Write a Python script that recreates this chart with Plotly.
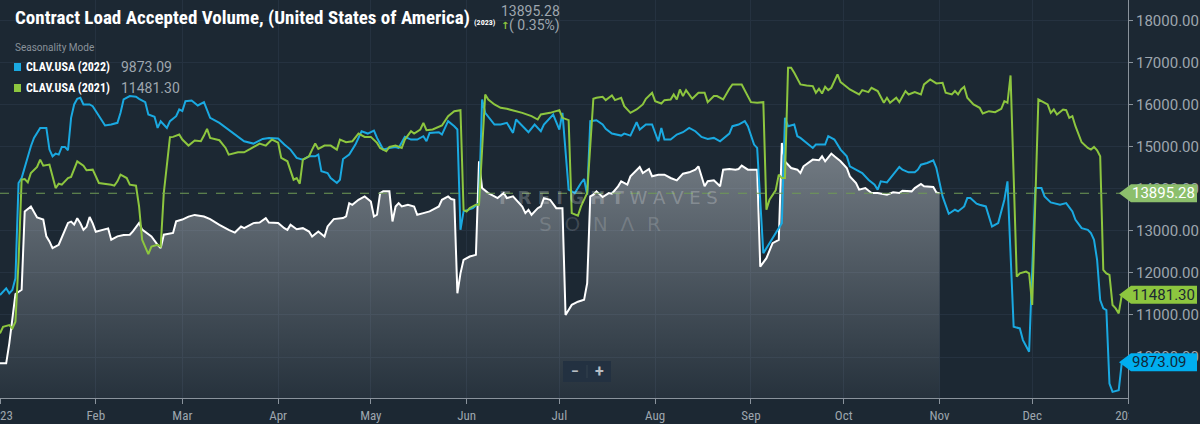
import pandas as pd
import plotly.graph_objects as go

# values, (day of 2023, volume) pairs
START = pd.Timestamp("2023-01-01")

clav_2023 = [(0, 9850), (2, 9850), (3, 10320), (5, 11500), (7, 11600), (8, 13460), (10, 13580), (12, 13320),
             (14, 13270), (15, 12870), (16, 12750), (17, 12590), (19, 12670), (20, 12830), (22, 13190), (23, 13220),
             (24, 13150), (25, 13300), (26, 13180), (27, 13025), (28, 13100), (29, 13330), (30, 13180), (31, 12980),
             (33, 13020), (35, 13060), (36, 12790), (38, 12870), (40, 12900), (42, 12910), (43, 12990), (45, 13190),
             (46, 13030), (48, 12910), (49, 12870), (51, 12670), (52, 12590), (53, 12910), (56, 12950), (57, 13230),
             (59, 13270), (61, 13340), (63, 13380), (66, 13340), (68, 13280), (71, 13145), (72, 13100), (74, 13025),
             (76, 12960), (78, 13105), (79, 13065), (82, 13185), (84, 13200), (86, 13305), (87, 13200), (90, 13190),
             (92, 13065), (93, 13025), (94, 13145), (96, 13040), (98, 13065), (100, 12985), (101, 12866), (103, 12986),
             (105, 12866), (106, 13105), (108, 13280), (111, 13305), (112, 13345), (113, 13660), (114, 13620),
             (116, 13740), (118, 13820), (120, 13700), (121, 13345), (122, 13385), (123, 13900), (124, 13940),
             (126, 13940), (127, 13225), (128, 13580), (129, 13660), (130, 13580), (132, 13620), (134, 13580),
             (135, 13383), (137, 13423), (139, 13463), (141, 13540), (142, 13580), (143, 13740), (145, 13820),
             (146, 13757), (147, 13740), (148, 11515), (149, 11990), (150, 12310), (152, 12390), (154, 12430),
             (155, 14655), (156, 14020), (158, 13900), (160, 13820), (161, 13780), (163, 13900), (164, 13780),
             (166, 13820), (167, 13740), (169, 13580), (170, 13423), (171, 13502), (172, 13383), (174, 13540),
             (175, 13580), (176, 13780), (178, 13740), (180, 13540), (182, 13540), (183, 11000), (185, 11240),
             (187, 11316), (189, 11360), (190, 11755), (191, 13820), (192, 13860), (193, 13940), (195, 13805),
             (197, 13900), (198, 13885), (200, 14060), (201, 14180), (203, 14100), (204, 14300), (207, 14520),
             (208, 14377), (210, 14472), (211, 14300), (213, 14337), (215, 14337), (217, 14258), (219, 14202),
             (221, 14361), (223, 14393), (225, 14456), (226, 14536), (228, 14060), (229, 14180), (231, 14202),
             (233, 14060), (234, 14456), (236, 14472), (238, 14456), (239, 14472), (240, 14552), (242, 14456),
             (245, 14456), (246, 12150), (248, 12350), (250, 12708), (252, 12787), (253, 15090), (254, 14655),
             (256, 14496), (258, 14456), (259, 14377), (260, 14536), (263, 14695), (265, 14679), (266, 14774),
             (267, 14655), (269, 14838), (270, 14774), (272, 14655), (274, 14496), (275, 14297), (277, 14138),
             (278, 13980), (280, 14019), (282, 13900), (284, 13900), (287, 13860), (289, 13916), (291, 13900),
             (292, 13956), (295, 13940), (296, 14019), (298, 14115), (299, 14059), (302, 14043), (303, 13916),
             (304, 13895.28)]

clav_2022 = [(0, 11475), (1, 11555), (2, 11634), (3, 11515), (4, 11595), (5, 11873), (6, 14140), (7, 14258),
             (9, 14775), (10, 15013), (11, 15212), (13, 15450), (15, 15450), (16, 14934), (17, 14775), (18, 14838),
             (19, 14814), (20, 14997), (21, 14997), (22, 14918), (23, 15689), (24, 16007), (25, 16142), (26, 16166),
             (27, 16007), (29, 16007), (30, 15967), (32, 15729), (34, 15506), (36, 15530), (38, 15570), (39, 15808),
             (40, 16126), (42, 16206), (44, 16190), (45, 16142), (47, 16062), (48, 15768), (50, 15713), (51, 15450),
             (52, 15609), (54, 15450), (55, 15609), (57, 15729), (58, 15888), (59, 15848), (60, 16086), (62, 16102),
             (64, 15983), (66, 16062), (68, 15689), (71, 15570), (74, 15411), (77, 15252), (79, 15132), (82, 15077),
             (85, 15188), (87, 15212), (90, 15196), (92, 15053), (94, 14934), (96, 14735), (98, 14695), (100, 14775),
             (102, 14775), (103, 14814), (104, 14417), (106, 14377), (107, 14258), (109, 14139), (110, 14218),
             (111, 14711), (113, 14814), (115, 15053), (117, 15370), (119, 15315), (121, 15387), (122, 15212),
             (124, 14934), (126, 14973), (128, 14997), (129, 14973), (131, 15236), (133, 15172), (135, 15172),
             (137, 15252), (138, 15132), (139, 15331), (142, 15347), (143, 15291), (145, 15609), (147, 15490),
             (148, 15411), (149, 13025), (150, 13463), (153, 13542), (155, 13662), (156, 16126), (157, 15808),
             (160, 15530), (162, 15530), (164, 15570), (166, 15331), (167, 15649), (169, 15490), (171, 15347),
             (173, 15530), (175, 15371), (176, 15530), (179, 15768), (181, 15411), (182, 15808), (184, 13980),
             (186, 13900), (188, 14139), (189, 14234), (190, 13860), (191, 15609), (193, 15633), (195, 15530),
             (196, 15426), (198, 15315), (201, 15267), (202, 15315), (204, 15267), (205, 15450), (206, 15585),
             (207, 15411), (209, 15530), (211, 15530), (213, 15132), (214, 15450), (215, 15172), (217, 15172),
             (219, 15291), (221, 15347), (223, 15450), (225, 15371), (227, 15236), (229, 15188), (231, 15212),
             (233, 15132), (235, 15252), (236, 15315), (237, 15490), (239, 15530), (241, 15609), (242, 15490),
             (244, 15053), (245, 14973), (247, 12470), (249, 12708), (251, 12946), (253, 13185), (254, 15689),
             (255, 15490), (257, 15530), (258, 15252), (259, 15212), (261, 15093), (263, 14973), (264, 15053),
             (267, 15053), (268, 15252), (270, 15172), (272, 14934), (274, 14775), (275, 14536), (277, 14456),
             (279, 14377), (281, 14218), (283, 14099), (284, 13980), (285, 14178), (287, 14154), (289, 14337),
             (291, 14520), (292, 14456), (294, 14393), (296, 14393), (297, 14456), (298, 14575), (300, 14615),
             (302, 14679), (303, 14496), (305, 13820), (307, 13407), (309, 13502), (310, 13463), (312, 13582),
             (313, 13781), (314, 13781), (316, 13646), (317, 13622), (319, 13582), (321, 13105), (323, 13185),
             (325, 13741), (326, 14178), (328, 10720), (330, 10680), (331, 10402), (332, 10243), (333, 10124),
             (335, 14019), (337, 14019), (338, 13820), (340, 13677), (343, 13622), (345, 13662), (347, 13463),
             (348, 13264), (350, 13065), (352, 13025), (353, 12946), (354, 12787), (355, 12310), (356, 11356),
             (357, 11157), (358, 11117), (359, 9369), (360, 9170), (362, 9210), (363, 9873.09)]

clav_2021 = [(0, 10561), (1, 10720), (3, 10760), (4, 10680), (5, 10840), (6, 12270), (7, 14218), (8, 14234),
             (9, 14154), (10, 14377), (12, 14520), (13, 14695), (14, 14552), (16, 14576), (17, 14297), (18, 14019),
             (19, 14123), (20, 14099), (22, 14258), (23, 14282), (25, 14655), (27, 14552), (28, 14441), (30, 14456),
             (32, 14139), (34, 14123), (36, 14099), (37, 14075), (38, 14178), (39, 14337), (41, 14258), (42, 14099),
             (44, 14075), (45, 13582), (46, 12787), (48, 12445), (49, 12628), (51, 12668), (52, 12628), (53, 13900),
             (55, 15228), (56, 15236), (58, 15291), (59, 15172), (61, 15029), (63, 15148), (65, 15132), (66, 15267),
             (67, 15426), (68, 15212), (71, 15156), (73, 14973), (74, 14814), (77, 14870), (79, 14870), (81, 14950),
             (84, 15077), (86, 15029), (88, 15172), (90, 15100), (91, 14735), (93, 14655), (95, 14218), (96, 14258),
             (97, 14123), (98, 14695), (100, 14775), (101, 14934), (102, 15077), (103, 14950), (105, 15029),
             (107, 15029), (109, 14934), (110, 15172), (112, 15108), (114, 15132), (116, 15315), (118, 15236),
             (120, 15236), (122, 15093), (123, 14973), (125, 14894), (126, 14997), (128, 15029), (130, 14973),
             (131, 15172), (133, 15371), (134, 15315), (136, 15411), (137, 15570), (138, 15395), (140, 15411),
             (143, 15506), (145, 15729), (147, 15848), (149, 15872), (150, 13502), (151, 13463), (152, 13542),
             (154, 13622), (155, 13622), (157, 16245), (158, 16126), (160, 16007), (162, 15928), (164, 15904),
             (167, 15848), (169, 15808), (172, 15729), (174, 15649), (175, 15768), (178, 15808), (181, 15872),
             (182, 15689), (184, 15633), (185, 13423), (187, 13360), (188, 13582), (190, 13900), (192, 16142),
             (193, 16166), (195, 16190), (196, 16110), (198, 16221), (199, 16110), (201, 16166), (202, 15967),
             (204, 15808), (206, 15888), (208, 16007), (209, 16142), (211, 16285), (212, 16086), (214, 16031),
             (215, 16110), (217, 16126), (218, 16245), (219, 16126), (220, 16365), (221, 16206), (222, 16349),
             (224, 16142), (226, 16285), (228, 16285), (229, 16062), (231, 16206), (232, 16206), (234, 16126),
             (236, 16380), (237, 16484), (240, 16484), (241, 16349), (243, 16062), (245, 16046), (247, 16062),
             (248, 13502), (249, 13741), (251, 13964), (252, 14337), (253, 14258), (254, 14258), (255, 16881),
             (256, 16881), (257, 16762), (259, 16484), (261, 16460), (263, 16444), (264, 16285), (265, 16380),
             (266, 16269), (267, 16428), (268, 16349), (269, 16404), (271, 16722), (272, 16539), (273, 16484),
             (275, 16365), (278, 16245), (279, 16349), (281, 16301), (282, 16404), (284, 16325), (286, 16047),
             (287, 16166), (288, 16047), (290, 16166), (291, 16062), (293, 16325), (294, 16245), (296, 16301),
             (298, 16245), (299, 16484), (301, 16603), (303, 16508), (305, 16524), (306, 16285), (308, 16245),
             (309, 16325), (310, 16245), (311, 16365), (312, 16428), (313, 16166), (315, 16007), (317, 15928),
             (318, 15792), (320, 15848), (322, 15824), (324, 15904), (325, 16086), (326, 16047), (327, 16698),
             (329, 11912), (330, 11992), (332, 12032), (333, 11992), (334, 11237), (336, 16126), (337, 16086),
             (339, 16007), (340, 15808), (341, 15888), (342, 15768), (344, 15888), (345, 15872), (346, 15689),
             (347, 15729), (348, 15490), (350, 15108), (352, 14973), (353, 14934), (354, 14997), (355, 14918),
             (356, 14775), (357, 12072), (358, 11990), (359, 11952), (360, 11237), (361, 11157), (362, 11038),
             (363, 11481.30)]

month_ticks = pd.date_range("2023-01-01", "2024-01-01", freq="MS")
month_labels = ["2023", "Feb", "Mar", "Apr", "May", "Jun", "Jul", "Aug", "Sep", "Oct", "Nov", "Dec", "2024"]
change_pct = 0.35

BG = "#1c2833"
GRID = "#253240"
AXIS = "#8a939c"
TXT = "#9ea6ae"
BLUE = "#1aa9e1"
GREEN = "#8dc63f"
NARROW = "Liberation Sans Narrow, Roboto Condensed, Roboto, sans-serif"

PLOT_W, PLOT_H = 1128, 398


def px(x):
    return x / PLOT_W


def py(y):
    return 1 - y / PLOT_H


def unpack(pairs):
    d, v = zip(*pairs)
    return START + pd.to_timedelta(list(d), unit="D"), list(v)


x23, y23 = unpack(clav_2023)
x22, y22 = unpack(clav_2022)
x21, y21 = unpack(clav_2021)
last23, last22, last21 = y23[-1], y22[-1], y21[-1]

fig = go.Figure()
fig.add_trace(go.Scatter(x=x23, y=y23, mode="lines", line=dict(color="white", width=2),
                         fill="tozeroy",
                         fillgradient=dict(type="vertical", start=9025, stop=14900,
                                           colorscale=[[0, "rgba(200,205,210,0.06)"],
                                                       [1, "rgba(200,205,210,0.5)"]]),
                         hoverinfo="skip"))
fig.add_trace(go.Scatter(x=x22, y=y22, mode="lines", line=dict(color=BLUE, width=2), hoverinfo="skip"))
fig.add_trace(go.Scatter(x=x21, y=y21, mode="lines", line=dict(color=GREEN, width=2), hoverinfo="skip"))

shapes = []
ann = []

# dashed guide at the latest 2023 value
shapes.append(dict(type="line", xref="paper", x0=0, x1=1, yref="y", y0=last23, y1=last23,
                   line=dict(color="#6f9a55", width=1, dash="dash")))

# right axis panel hides the second half of the last date label, like the source screenshot
shapes.append(dict(type="rect", xref="paper", yref="paper", x0=px(1129), x1=px(1200), y0=py(424), y1=py(399),
                   fillcolor=BG, line=dict(width=0), layer="above"))

# price tags on the right axis
for val, fill, fc in [(last23, "#8cbf6c", "white"), (last21, GREEN, "#1c2833"), (last22, "#00aeef", "#10283a")]:
    shapes.append(dict(type="path", xref="paper", yref="y", xsizemode="pixel", ysizemode="pixel",
                       xanchor=1, yanchor=val, path="M -9 0 L 3 9 L 69 9 L 69 -9 L 3 -9 Z",
                       fillcolor=fill, line=dict(width=0), layer="above"))
    ann.append(dict(xref="paper", yref="y", x=1, y=val, xanchor="left", yanchor="middle", xshift=2,
                    text=f"{val:.2f}", showarrow=False, font=dict(size=15, color=fc, family="Roboto")))

# title block
ann.append(dict(x=px(13), y=py(18), xanchor="left", yanchor="middle",
                text="<b>Contract Load Accepted Volume, (United States of America)</b>",
                font=dict(size=19, color="white", family=NARROW)))
ann.append(dict(x=px(472), y=py(23), xanchor="left", yanchor="middle", text="<b>(2023)</b>",
                font=dict(size=8, color="white", family=NARROW)))
ann.append(dict(x=px(499), y=py(11), xanchor="left", yanchor="middle", text=f"{last23:.2f}",
                font=dict(size=14, color=TXT, family="Roboto")))
ann.append(dict(x=px(499), y=py(26), xanchor="left", yanchor="middle", text="<b>↑</b>",
                font=dict(size=10, color=GREEN, family="DejaVu Sans")))
ann.append(dict(x=px(507), y=py(26), xanchor="left", yanchor="middle", text=f"( {change_pct:.2f}%)",
                font=dict(size=14, color=TXT, family="Roboto")))

# legend
ann.append(dict(x=px(13), y=py(48), xanchor="left", yanchor="middle", text="Seasonality Mode",
                font=dict(size=10, color="#89929a", family="Roboto")))
for row_y, color, label, val in [(67, BLUE, "CLAV.USA (2022)", last22), (88, GREEN, "CLAV.USA (2021)", last21)]:
    shapes.append(dict(type="rect", xref="paper", yref="paper", x0=px(14), x1=px(21),
                       y0=py(row_y + 4), y1=py(row_y - 4), fillcolor=color, line=dict(width=0)))
    ann.append(dict(x=px(24), y=py(row_y), xanchor="left", yanchor="middle", text=f"<b>{label}</b>",
                    font=dict(size=12, color="white", family=NARROW)))
    ann.append(dict(x=px(119), y=py(row_y), xanchor="left", yanchor="middle", text=f"{val:.2f}",
                    font=dict(size=14, color=TXT, family="Roboto")))

# watermark
ann.append(dict(x=px(608), y=py(197), xanchor="center", yanchor="middle",
                text="<b>F R E I G H T</b> W A V E S",
                font=dict(size=18, color="rgba(255,255,255,0.24)", family="DejaVu Sans")))
ann.append(dict(x=px(600), y=py(224), xanchor="center", yanchor="middle", text="S  O  N  Λ  R",
                font=dict(size=20, color="rgba(255,255,255,0.16)", family="DejaVu Sans ExtraLight, DejaVu Sans")))

# zoom buttons
shapes.append(dict(type="rect", xref="paper", yref="paper", x0=px(563), x1=px(611), y0=py(382), y1=py(361),
                   fillcolor="#233141", line=dict(width=0)))
shapes.append(dict(type="line", xref="paper", yref="paper", x0=px(587), x1=px(587), y0=py(378), y1=py(365),
                   line=dict(color="#34424f", width=1)))
ann.append(dict(x=px(575), y=py(371), xanchor="center", yanchor="middle", text="<b>−</b>",
                font=dict(size=14, color="#b8bec4", family="Roboto")))
ann.append(dict(x=px(599), y=py(371), xanchor="center", yanchor="middle", text="<b>+</b>",
                font=dict(size=16, color="#b8bec4", family="Roboto")))

for a in ann:
    a.setdefault("xref", "paper")
    a.setdefault("yref", "paper")
    a.setdefault("showarrow", False)

fig.update_layout(
    width=1200, height=424,
    margin=dict(l=0, r=72, t=0, b=26, autoexpand=False),
    paper_bgcolor=BG, plot_bgcolor=BG,
    showlegend=False,
    shapes=shapes, annotations=ann,
    xaxis=dict(type="date", range=["2023-01-01", "2024-01-01"], tickvals=month_ticks, ticktext=month_labels,
               showgrid=True, gridcolor=GRID, zeroline=False, showline=True, linecolor=AXIS,
               ticks="outside", ticklen=5, tickcolor=AXIS, ticklabeloverflow="allow", automargin=False,
               tickfont=dict(size=13, color=TXT, family=NARROW)),
    yaxis=dict(side="right", range=[9025, 18492], dtick=1000, tick0=0, tickformat=".2f", automargin=False,
               showgrid=True, gridcolor=GRID, zeroline=False, showline=True, linecolor=AXIS,
               ticks="outside", ticklen=4, tickcolor=AXIS,
               tickfont=dict(size=15, color=TXT, family="Roboto")),
)

# page body has a default margin, drop it so the chart fills the window
fig.write_html("out.html", config={"displayModeBar": False},
               post_script="document.body.style.margin='0';document.body.style.background='%s';" % BG)
